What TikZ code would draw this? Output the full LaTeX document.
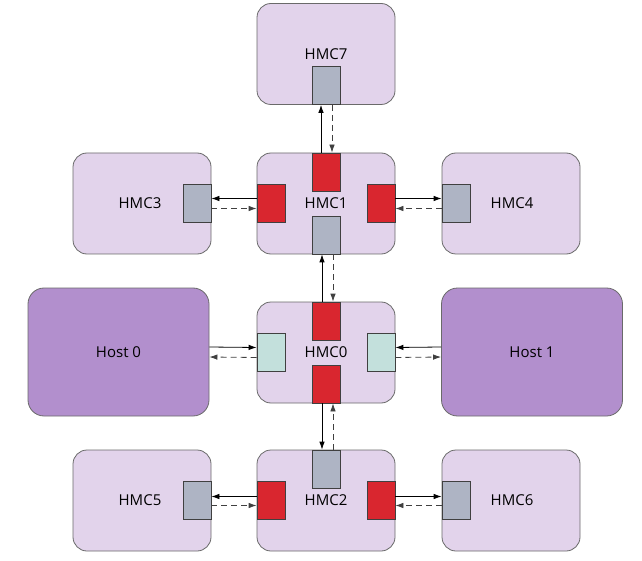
\documentclass[tikz,border=0pt]{standalone}
\usepackage{fontspec}
\setmainfont{Open Sans}
\usetikzlibrary{arrows.meta}
\definecolor{hmcfill}{HTML}{E2D3EB}
\definecolor{hostfill}{HTML}{B28FCD}
\definecolor{grayport}{HTML}{AEB4C4}
\definecolor{redport}{HTML}{D9262F}
\definecolor{tealport}{HTML}{C3E0DC}
\definecolor{edgegray}{HTML}{6A6A6A}
\tikzset{
  hmc/.style={draw=edgegray, line width=0.8pt, fill=hmcfill, rounded corners=14pt,
    minimum width=138pt, minimum height=101pt, inner sep=0pt, font=\fontsize{15}{17}\selectfont},
  host/.style={draw=edgegray, line width=0.8pt, fill=hostfill, rounded corners=16pt,
    minimum width=181pt, minimum height=128pt, inner sep=0pt, font=\fontsize{15}{17}\selectfont},
  portbox/.style={draw=black!75, line width=0.7pt, minimum width=28pt, minimum height=38pt, inner sep=0pt},
  gp/.style={fill=grayport},
  rp/.style={fill=redport},
  tp/.style={fill=tealport},
  lbl/.style={font=\fontsize{15}{17}\selectfont, inner sep=0pt},
  link/.style={draw=black, line width=0.8pt, -{Latex[length=8pt,width=5.5pt]}},
  backlink/.style={draw=black!75, line width=0.8pt, dash pattern=on 6pt off 4pt, -{Latex[length=8pt,width=5.5pt]}},
}
\begin{document}
\begin{tikzpicture}[x=1pt,y=-1pt]
\useasboundingbox (0,0) rectangle (642,561);
% main boxes
\node[hmc] (hmc7) at (326,54) {};
\node[hmc] (hmc1) at (326,203.5) {};
\node[hmc] (hmc3) at (142,203.5) {};
\node[hmc] (hmc4) at (511,203.5) {};
\node[hmc] (hmc0) at (326,352.5) {};
\node[host] (host0) at (118.5,352) {Host 0};
\node[host] (host1) at (532,352) {Host 1};
\node[hmc] (hmc2) at (326,500.5) {};
\node[hmc] (hmc5) at (142,500.5) {};
\node[hmc] (hmc6) at (511,500.5) {};
% labels
\node[lbl] (l7) at (326,54) {HMC7};
\node[lbl] (l1) at (326,203) {HMC1};
\node[lbl] (l3) at (140,203) {HMC3};
\node[lbl] (l4) at (512,203) {HMC4};
\node[lbl] (l0) at (326,352) {HMC0};
\node[lbl] (l2) at (326,500) {HMC2};
\node[lbl] (l5) at (140,500) {HMC5};
\node[lbl] (l6) at (512,500) {HMC6};
% ports
\node[portbox,gp,anchor=south] (p7) at (hmc7.south) {};
\node[portbox,rp,anchor=north] (p1t) at (hmc1.north) {};
\node[portbox,gp,anchor=south] (p1b) at (hmc1.south) {};
\node[portbox,rp,anchor=west] (p1l) at (hmc1.west) {};
\node[portbox,rp,anchor=east] (p1r) at (hmc1.east) {};
\node[portbox,gp,anchor=east] (p3) at (hmc3.east) {};
\node[portbox,gp,anchor=west] (p4) at (hmc4.west) {};
\node[portbox,rp,anchor=north] (p0t) at (hmc0.north) {};
\node[portbox,rp,anchor=south] (p0b) at (hmc0.south) {};
\node[portbox,tp,anchor=west] (p0l) at (hmc0.west) {};
\node[portbox,tp,anchor=east] (p0r) at (hmc0.east) {};
\node[portbox,gp,anchor=north] (p2t) at (hmc2.north) {};
\node[portbox,rp,anchor=west] (p2l) at (hmc2.west) {};
\node[portbox,rp,anchor=east] (p2r) at (hmc2.east) {};
\node[portbox,gp,anchor=east] (p5) at (hmc5.east) {};
\node[portbox,gp,anchor=west] (p6) at (hmc6.west) {};
% vertical links
\draw[link] ([xshift=-5pt]p1t.north) -- ([xshift=-5pt]p7.south);
\draw[backlink] ([xshift=6pt]p7.south) -- ([xshift=6pt]p1t.north);
\draw[link] ([xshift=-4pt]p0t.north) -- ([xshift=-4pt]p1b.south);
\draw[backlink] ([xshift=7pt]p1b.south) -- ([xshift=7pt]p0t.north);
\draw[link] ([xshift=-4pt]p0b.south) -- ([xshift=-4pt]p2t.north);
\draw[backlink] ([xshift=7pt]p2t.north) -- ([xshift=7pt]p0b.south);
% horizontal links
\draw[link] ([yshift=5pt]p1l.west) -- ([yshift=5pt]p3.east);
\draw[backlink] ([yshift=-5pt]p3.east) -- ([yshift=-5pt]p1l.west);
\draw[link] ([yshift=5pt]p1r.east) -- ([yshift=5pt]p4.west);
\draw[backlink] ([yshift=-5pt]p4.west) -- ([yshift=-5pt]p1r.east);
\draw[link] ([yshift=5pt]host0.east) -- ([yshift=5pt]p0l.west);
\draw[backlink] ([yshift=-5pt]p0l.west) -- ([yshift=-5pt]host0.east);
\draw[link] ([yshift=5pt]host1.west) -- ([yshift=5pt]p0r.east);
\draw[backlink] ([yshift=-5pt]p0r.east) -- ([yshift=-5pt]host1.west);
\draw[link] ([yshift=4pt]p2l.west) -- ([yshift=4pt]p5.east);
\draw[backlink] ([yshift=-5pt]p5.east) -- ([yshift=-5pt]p2l.west);
\draw[link] ([yshift=4pt]p2r.east) -- ([yshift=4pt]p6.west);
\draw[backlink] ([yshift=-5pt]p6.west) -- ([yshift=-5pt]p2r.east);
\end{tikzpicture}
\end{document}
